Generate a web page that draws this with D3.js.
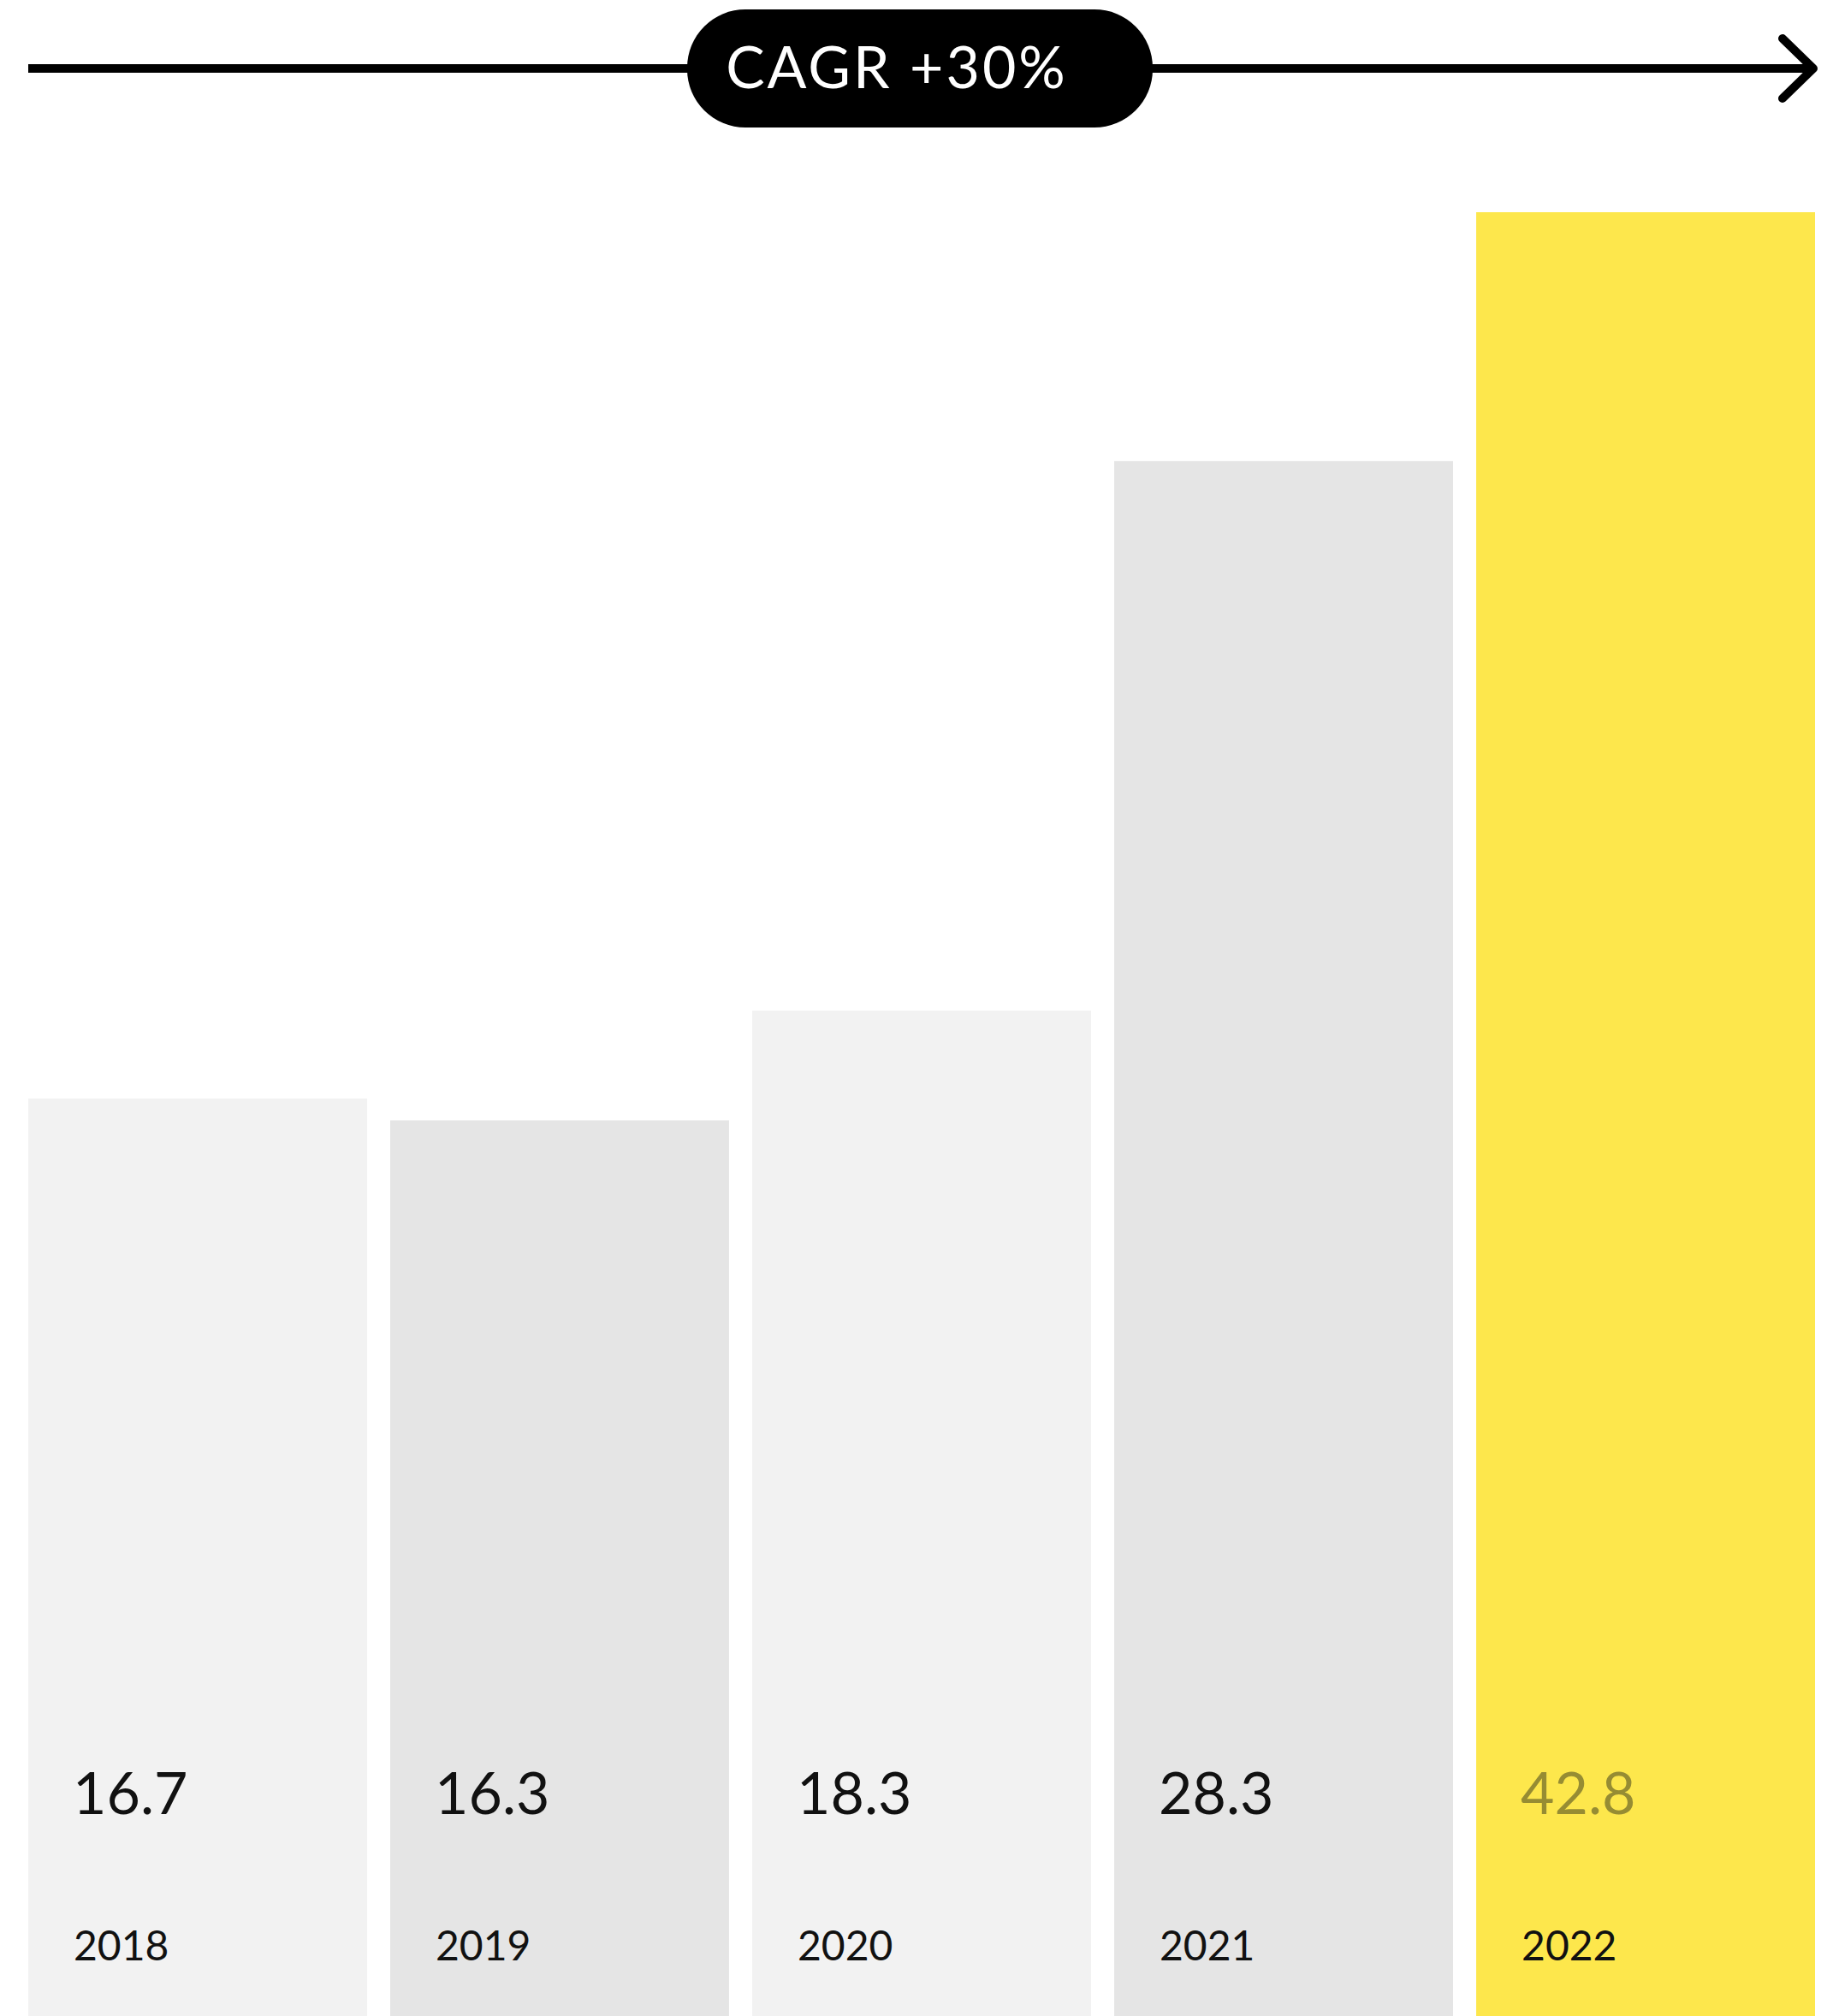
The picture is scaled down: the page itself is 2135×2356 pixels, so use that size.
<!DOCTYPE html>
<html>
<head>
<meta charset="utf-8">
<script src="https://cdn.jsdelivr.net/npm/d3@7"></script>
<style>
  html, body { margin: 0; padding: 0; background: #fff; }
  svg { display: block; }
  text { font-family: "Lato", "Open Sans", sans-serif; }
</style>
</head>
<body>
<div id="chart"></div>
<script>

// data
var years = ['2018', '2019', '2020', '2021', '2022'];
var values = [16.7, 16.3, 18.3, 28.3, 42.8];
var barColors = ['#f2f2f2', '#e5e5e5', '#f2f2f2', '#e5e5e5', '#fde74c'];
var valueColors = ['#111', '#111', '#111', '#111', '#968c33'];
var cagrLabel = 'CAGR +30%';

var width = 2135,
    height = 2356;

var margin = { top: 248, left: 33, right: 14 };

var svg = d3.select('#chart').append('svg')
    .attr('width', width)
    .attr('height', height);

// set the ranges
var x = d3.scaleBand()
    .domain(years)
    .range([margin.left, width - margin.right])
    .paddingInner(0.064)
    .paddingOuter(0);

// the last bar is cut at the top of the plot
var y = d3.scaleLinear()
    .domain([0, 32.83])
    .range([height, margin.top])
    .clamp(true);

var data = years.map(function (d, i) {
    return { year: d, value: values[i], color: barColors[i], textColor: valueColors[i] };
});

// bars
svg.selectAll('rect.bar')
    .data(data)
    .enter().append('rect')
    .attr('class', 'bar')
    .attr('x', function (d) { return x(d.year); })
    .attr('width', x.bandwidth())
    .attr('y', function (d) { return y(d.value); })
    .attr('height', function (d) { return height - y(d.value); })
    .attr('fill', function (d) { return d.color; });

// value labels
svg.selectAll('text.value')
    .data(data)
    .enter().append('text')
    .attr('class', 'value')
    .attr('x', function (d) { return x(d.year) + 52; })
    .attr('y', 2120)
    .attr('font-size', 68)
    .attr('fill', function (d) { return d.textColor; })
    .text(function (d) { return d.value.toFixed(1); });

// year labels
svg.selectAll('text.year')
    .data(data)
    .enter().append('text')
    .attr('class', 'year')
    .attr('x', function (d) { return x(d.year) + 53; })
    .attr('y', 2291)
    .attr('font-size', 48)
    .attr('fill', '#111')
    .text(function (d) { return d.year; });

// CAGR arrow
var arrowY = 80;
var x0 = x.range()[0], x1 = x.range()[1];

svg.append('line')
    .attr('x1', x0)
    .attr('x2', x1 - 4)
    .attr('y1', arrowY)
    .attr('y2', arrowY)
    .attr('stroke', '#000')
    .attr('stroke-width', 10);

svg.append('path')
    .attr('d', 'M' + (x1 - 38) + ',' + (arrowY - 35) + 'L' + (x1 - 2) + ',' + arrowY + 'L' + (x1 - 38) + ',' + (arrowY + 35))
    .attr('fill', 'none')
    .attr('stroke', '#000')
    .attr('stroke-width', 10)
    .attr('stroke-linecap', 'round')
    .attr('stroke-linejoin', 'round');

// pill
svg.append('rect')
    .attr('x', 803)
    .attr('y', 11)
    .attr('width', 544)
    .attr('height', 138)
    .attr('rx', 68)
    .attr('fill', '#000');

svg.append('text')
    .attr('x', 1048)
    .attr('y', 103)
    .attr('text-anchor', 'middle')
    .attr('font-size', 68)
    .attr('letter-spacing', 3)
    .attr('fill', '#fff')
    .text(cagrLabel);

</script>
</body>
</html>
